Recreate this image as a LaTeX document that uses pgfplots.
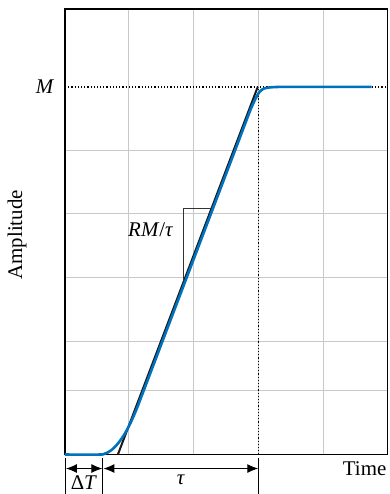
\documentclass[border=0pt]{standalone}
\usepackage{pgfplots}
\pgfplotsset{compat=1.18}
\usepackage{fontspec}
\setmainfont{Liberation Serif}
\usetikzlibrary{arrows.meta}
\definecolor{curveblue}{RGB}{0,113,188}
\definecolor{gridgray}{RGB}{200,200,200}
\begin{document}
\begin{tikzpicture}[font=\fontsize{21}{25}\selectfont]
\begin{axis}[
  scale only axis,
  width=323bp, height=446bp,
  xmin=65, xmax=388, ymin=0, ymax=446,
  xtick={129,194,259,324},
  ytick={64,113,177,241,304},
  xticklabels={}, yticklabels={},
  major tick length=0pt,
  grid=major,
  major grid style={gridgray, line width=1.1bp},
  axis line style={black, line width=1.3bp},
  clip=false,
]
% dotted reference lines
\addplot[black, line width=1.2bp, dash pattern=on 1.2bp off 2bp] coordinates {(65,368) (388,368)};
\addplot[black, line width=1.2bp, dash pattern=on 1.2bp off 2bp] coordinates {(259,0) (259,368)};
% tangent line
\addplot[black!90, line width=2bp] coordinates {(118,0) (258,368)};
% slope triangle
\addplot[black!80, line width=1bp] coordinates {(184,173.5) (184,246) (211.6,246)};
% step response
\addplot[curveblue, line width=2.6bp, smooth, tension=0.4] coordinates {
(65,0) (100,0) (104,0.54) (108,2.16) (112,4.85) (116,8.63) (120,13.5) (124,19.4) (128,26.4) (132,34.5) (136,43.7) (139,51.3)
(160,106.5) (200,211.7) (240,316.9) (250,343.2) (254,352.5) (257,358.5) (260,363.3) (264,366.3) (270,367.5) (280,368) (300,368) (372,368)};
% annotations
\node[anchor=east] at (axis cs:177,225) {\textit{RM}/\textit{τ}};
\node at (axis cs:45,368) {\textit{M}};
\node[rotate=90] at (axis cs:17,220) {Amplitude};
\node at (axis cs:365,-14) {Time};
\draw[black, line width=1bp] (axis cs:65.5,-3) -- (axis cs:65.5,-39);
\draw[black, line width=1bp] (axis cs:103,-3) -- (axis cs:103,-39);
\draw[black, line width=1bp] (axis cs:259,-3) -- (axis cs:259,-39);
\draw[black, line width=1bp, {Latex[length=11bp,width=9bp]}-{Latex[length=11bp,width=9bp]}] (axis cs:66,-14) -- (axis cs:102.5,-14);
\draw[black, line width=1bp, {Latex[length=11bp,width=9bp]}-{Latex[length=11bp,width=9bp]}] (axis cs:103.5,-14) -- (axis cs:258.5,-14);
\node at (axis cs:84,-28) {Δ\textit{T}};
\node at (axis cs:181,-25) {\textit{τ}};
\path (axis cs:0,-39) rectangle (axis cs:389,455);
\end{axis}
\end{tikzpicture}
\end{document}
